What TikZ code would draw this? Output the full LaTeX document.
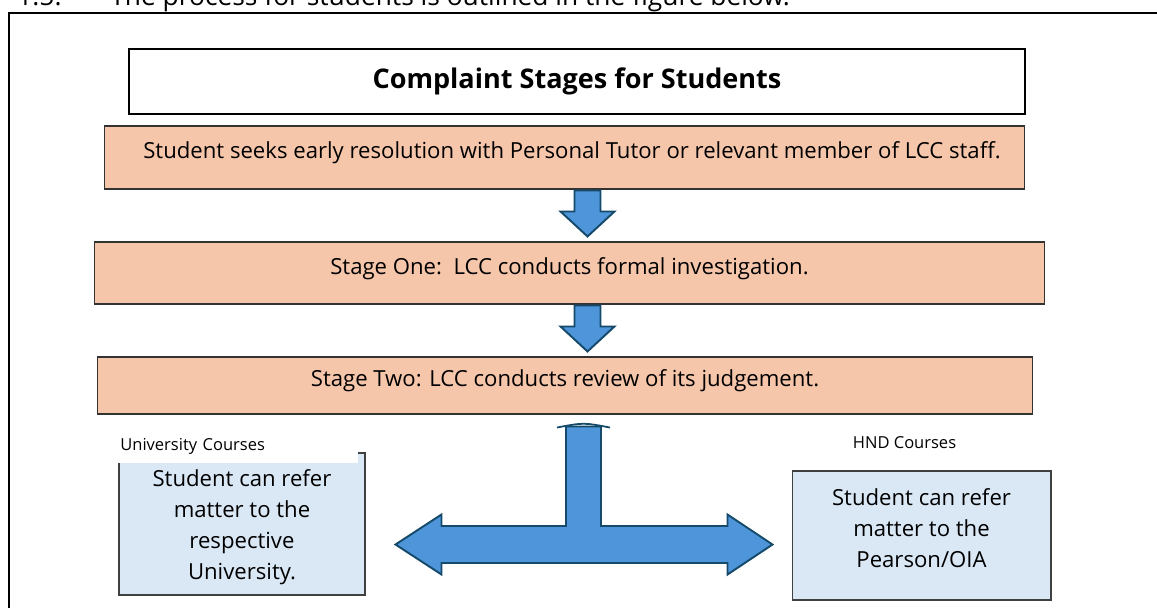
\documentclass[tikz,border=0pt]{standalone}
\usepackage{fontspec}
\setmainfont{Open Sans}
\usetikzlibrary{calc}

\definecolor{peach}{HTML}{F6C6AB}
\definecolor{paleblue}{HTML}{DAE8F6}
\definecolor{arrowblue}{HTML}{4E95D9}
\definecolor{arrowline}{HTML}{154A6B}

\begin{document}
\begin{tikzpicture}[x=0.02cm, y=-0.02cm, line join=miter,
  stagebox/.style={draw=black!80, line width=0.6pt, fill=peach, inner sep=0pt,
    font=\fontsize{12.6}{14}\selectfont, text height=9pt, text depth=7.5pt},
  referbox/.style={draw=black!75, line width=0.6pt, fill=paleblue, inner sep=0pt},
  refertext/.style={align=center, font=\fontsize{12.6}{17.6}\selectfont},
  courselabel/.style={font=\fontsize{9.4}{11}\selectfont},
  blockarrow/.style={fill=arrowblue, draw=arrowline, line width=1.1pt}]

\useasboundingbox (0,0) rectangle (1157,608);
\clip (0,0) rectangle (1157,608);

% --- page text cut off at the top, and the frame round the figure ---
\node[anchor=base west, inner sep=0pt, font=\fontsize{15}{18}\selectfont] (num) at (17,6) {1.5.};
\node[anchor=base west, inner sep=0pt, font=\fontsize{15}{18}\selectfont] (intro) at (110,6)
  {The process for students is outlined in the figure below.};
\draw[line width=1.2pt] (9,700) -- (9,13) -- (1200,13);

% --- title ---
\node[draw, line width=1.2pt, minimum width=17.92cm, minimum height=1.3cm, inner sep=0pt,
  font=\bfseries\fontsize{15.4}{18}\selectfont] (title) at (577,81.5) {Complaint Stages for Students};

% --- stages ---
\node[stagebox, minimum width=18.42cm, minimum height=1.26cm] (early) at (564.5,157.5)
  {\hspace{0.3cm}Student seeks early resolution with Personal Tutor or relevant member of LCC staff.};
\node[stagebox, minimum width=19.02cm, minimum height=1.24cm] (one) at (569.5,273)
  {Stage One:\ \ LCC conducts formal investigation.};
\node[stagebox, minimum width=18.72cm, minimum height=1.14cm] (two) at (565,385.5)
  {Stage Two: LCC conducts review of its judgement.};

% --- down arrows between stages ---
\coordinate (ax) at (587.5,0);
\newcommand{\blockdown}[2]{%
  % from the bottom of #1 to just above #2
  \draw[blockarrow]
    ($(ax |- #1.south)+(-13,1)$) -- ($(ax |- #1.south)+(13,1)$)
    -- ($(ax |- #2.north)+(13,-30)$) -- ($(ax |- #2.north)+(27,-30)$)
    -- ($(ax |- #2.north)+(0,-5)$)
    -- ($(ax |- #2.north)+(-27,-30)$) -- ($(ax |- #2.north)+(-13,-30)$) -- cycle;
}
\blockdown{early}{one}
\blockdown{one}{two}

% --- where the student can refer the matter ---
\node[referbox, minimum width=4.92cm, minimum height=2.84cm] (uni) at (242,524) {};
\node[refertext] (unitext) at (242,527) {Student can refer\\matter to the\\respective\\University.};
\node[courselabel, fill=white, anchor=west, inner xsep=0.16cm, inner ysep=0pt,
  text width=4.6cm, align=left, minimum height=0.66cm] (unilabel) at (112,446.5) {University Courses};

\node[referbox, minimum width=5.18cm, minimum height=2.58cm] (hnd) at (921.5,535.5) {};
\node[refertext] (hndtext) at (921.5,528) {Student can refer\\matter to the\\Pearson/OIA};
\node[courselabel] (hndlabel) at (904.5,443) {HND Courses};

% --- split arrow ---
\coordinate (tee) at (583.5,544.5);
\coordinate (ttop) at ($(tee |- two.south)+(0,12)$);
\coordinate (ltip) at ($(tee -| uni.east)+(30,0)$);
\coordinate (rtip) at ($(tee -| hnd.west)+(-19,0)$);
\draw[blockarrow]
  ($(ttop)+(-17.5,0)$) -- ($(ttop)+(17.5,0)$) -- ($(tee)+(17.5,-18.5)$)
  -- ($(rtip)+(-45,-18.5)$) -- ($(rtip)+(-45,-30)$) -- (rtip)
  -- ($(rtip)+(-45,30)$) -- ($(rtip)+(-45,18.5)$)
  -- ($(ltip)+(46,18.5)$) -- ($(ltip)+(46,30)$) -- (ltip)
  -- ($(ltip)+(46,-30)$) -- ($(ltip)+(46,-18.5)$)
  -- ($(tee)+(-17.5,-18.5)$) -- cycle;
\draw[arrowline, line width=1pt] ($(ttop)+(-26.5,1)$) .. controls ($(ttop)+(0,-4)$) .. ($(ttop)+(26.5,1)$);

\end{tikzpicture}
\end{document}
